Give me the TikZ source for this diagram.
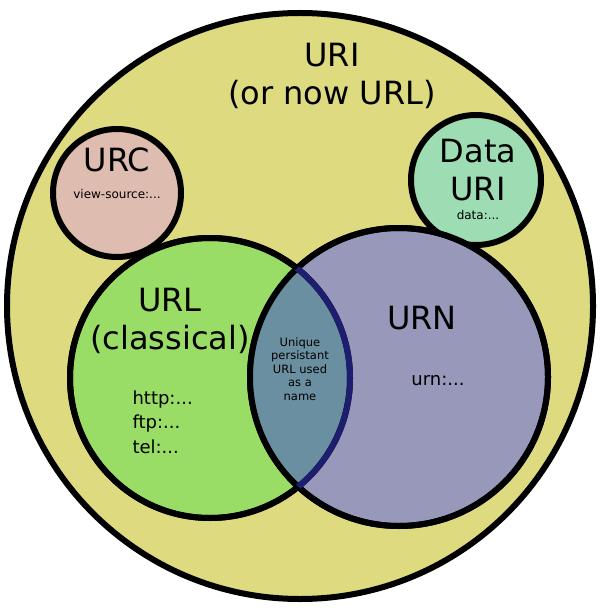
\documentclass[tikz,border=0pt]{standalone}
\usepackage{fontspec}
\setmainfont{DejaVu Sans}
\definecolor{uriyellow}{HTML}{DEDA80}
\definecolor{urcpink}{HTML}{DFBCB0}
\definecolor{datagreen}{HTML}{9EDDB3}
\definecolor{urlgreen}{HTML}{99DD66}
\definecolor{urnblue}{HTML}{9898BB}
\definecolor{lensblue}{HTML}{6A8FA0}
\definecolor{lensline}{HTML}{1E1E70}
\begin{document}
\begin{tikzpicture}[x=1pt,y=-1pt,
	set/.style={circle,draw=black,line width=6pt,inner sep=0pt},
	lbl/.style={align=center,font=\fontsize{32}{38}\selectfont},
	small/.style={font=\fontsize{12}{14}\selectfont}
	]
	\useasboundingbox (0,0) rectangle (600,612);
	\node[set,fill=uriyellow,minimum size=586pt] at (300,306) (URI) {};
	\node[set,fill=urcpink,minimum size=128pt] at (117,193) (URC) {};
	\node[set,fill=datagreen,minimum size=130pt] at (476,180) (DATA) {};
	\node[set,fill=urlgreen,minimum size=280pt] at (210,378) (URL) {};
	\node[set,fill=urnblue,minimum size=298pt] at (399,377) (URN) {};
	% lens
	\begin{scope}
		\clip (210,378) circle (140);
		\fill[lensblue] (399,377) circle (149);
	\end{scope}
	\draw[line width=6pt] (210,378) circle (140);
	\draw[line width=6pt] (399,377) circle (149);
	\begin{scope}
		\clip (399,377) circle (149);
		\draw[lensline,line width=6pt] (210,378) circle (140);
	\end{scope}
	% labels
	\node[lbl] at (332,76) (tURI) {URI\\(or now URL)};
	\node[lbl] at (117,160) (tURC) {URC};
	\node[small] at (117,194) (sURC) {view-source:...};
	\node[lbl] at (478,170) (tDATA) {Data\\URI};
	\node[small] at (478,215) (sDATA) {data:...};
	\node[lbl] at (170,321) (tURL) {URL\\(classical)};
	\node[align=left,anchor=west,font=\fontsize{18}{24.5}\selectfont] at (129,422) (sURL) {http:...\\ftp:...\\tel:...};
	\node[lbl] at (422,318) (tURN) {URN};
	\node[font=\fontsize{18}{20}\selectfont] at (438,381) (sURN) {urn:...};
	\node[align=center,font=\fontsize{11.5}{13.5}\selectfont] at (300,369) (tLENS) {Unique\\persistant\\URL used\\as a\\name};
\end{tikzpicture}
\end{document}
